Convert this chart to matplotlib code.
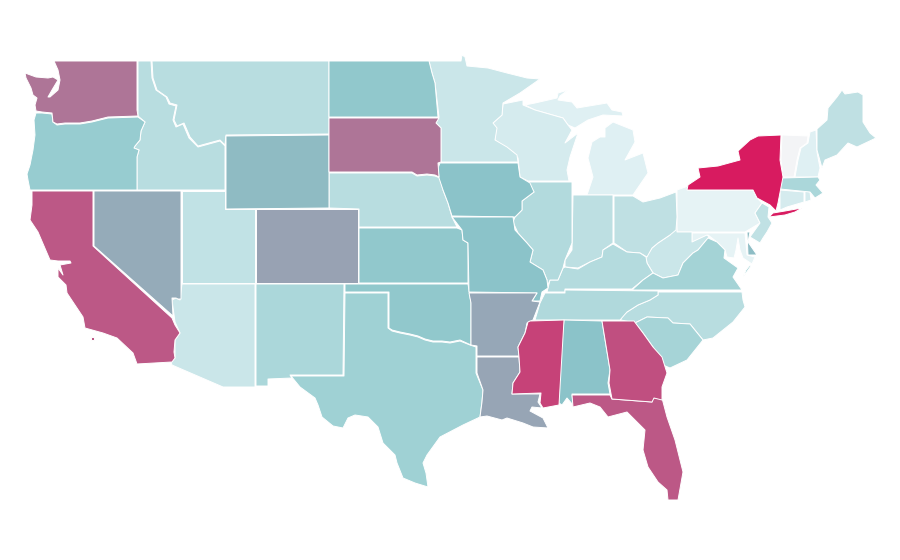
import matplotlib
matplotlib.use("Agg")
import matplotlib.pyplot as plt
from matplotlib.patches import Polygon
from matplotlib.colors import LinearSegmentedColormap

state_names = ["VT","PA","MD","NJ","MI","NH","WI","MN","AZ","WV","CT","RI","ME","OH","UT","IN","KY","IL",
               "MT","ID","NE","NC","TN","MA","NM","VA","SC","TX","OR","KS","OK","ND","IA","MO","AL","DE",
               "WY","NV","AR","LA","CO","WA","SD","CA","FL","GA","MS","NY"]
state_values = [0.0,0.06,0.06,0.245,0.10,0.10,0.15,0.20,0.20,0.20,0.15,0.15,0.25,0.25,0.24,0.26,0.30,0.31,
                0.28,0.28,0.28,0.28,0.32,0.34,0.34,0.375,0.37,0.40,0.44,0.47,0.47,0.47,0.50,0.50,0.50,0.52,
                0.53,0.58,0.59,0.60,0.61,0.80,0.80,0.89,0.89,0.91,0.93,1.0]

cmap = LinearSegmentedColormap.from_list("rate", [
    (0.0, "#f3f4f6"), (0.06, "#e6f3f5"), (0.10, "#dff0f3"), (0.20, "#cae6e9"),
    (0.28, "#b8dde0"), (0.40, "#9fd1d4"), (0.5, "#8bc4c9"), (0.6, "#97a5b5"),
    (0.8, "#ae7597"), (0.9, "#bd5584"), (1.0, "#d81b60")])

outlines = {
"WA": [[(54,61),(137,61),(137,110),(138,116),(108,117),(92,121),(80,123),(65,123),(57,124),(53,122),(52,113),(42,112),(36,111),(35,105),(37,98),(33,95),(31,88),(26,78),(25,73),(36,77),(48,78),(53,77),(58,80),(52,90),(48,97),(50,97),(58,90),(60,80),(58,70)]],
"OR": [[(36,113),(42,113),(52,114),(53,122),(57,125),(65,124),(80,124),(92,122),(108,118),(138,117),(145,122),(141,131),(140,140),(135,146),(134,148),(139,150),(137,157),(137,190),(30,190),(28,180),(27,174),(30,165),(33,150),(35,135),(34,120)]],
"CA": [[(32,191),(93,191),(93,246),(172,318),(175,325),(180,333),(175,340),(174,352),(175,358),(172,362),(137,364),(133,353),(117,338),(103,333),(85,328),(83,317),(67,293),(66,285),(58,277),(58,268),(63,275),(60,265),(71,263),(70,261),(58,261),(50,260),(38,232),(30,220),(32,205)],
       [(91,337),(94,337),(94,340),(91,340)]],
"NV": [[(94,191),(181,191),(181,299),(178,299),(176,298),(172,298),(173,316),(94,246)]],
"UT": [[(182,191),(225,191),(225,209),(255,209),(255,283),(182,283)]],
"AZ": [[(182,284),(255,284),(255,387),(223,387),(172,365),(171,362),(175,358),(175,340),(180,333),(175,322),(172,300),(176,298),(180,300)]],
"NM": [[(256,284),(344,284),(343,375),(290,375),(292,378),(268,379),(268,386),(256,386)]],
"TX": [[(345,293),(388,293),(388,328),(392,331),(400,333),(410,335),(418,337),(425,340),(433,342),(442,342),(450,343),(460,341),(470,345),(476,347),(476,373),(483,390),(482,402),(480,417),(463,425),(440,437),(427,455),(423,463),(426,473),(428,487),(415,483),(403,478),(397,463),(395,455),(383,443),(378,427),(368,417),(355,415),(348,418),(343,428),(333,426),(322,417),(318,405),(315,398),(300,387),(291,376),(344,376)]],
"OK": [[(345,284),(468,284),(471,303),(471,345),(460,340),(450,342),(442,341),(433,341),(425,339),(418,336),(410,334),(400,332),(392,330),(389,328),(389,292),(345,292)]],
"KS": [[(359,228),(457,228),(462,230),(463,240),(468,243),(468,283),(359,283)]],
"CO": [[(256,209),(358,209),(358,283),(256,283)]],
"WY": [[(226,136),(329,135),(329,208),(226,209)]],
"MT": [[(152,61),(329,61),(329,134),(226,135),(225,145),(220,140),(198,146),(190,137),(184,123),(177,126),(174,120),(177,105),(170,103),(167,97),(157,90),(153,78)]],
"ID": [[(138,61),(151,61),(152,78),(156,90),(166,97),(169,104),(176,106),(173,120),(176,127),(183,124),(189,138),(198,147),(220,141),(225,146),(225,190),(137,190),(137,157),(139,150),(134,148),(135,146),(140,140),(141,131),(145,122),(138,116)]],
"ND": [[(329,61),(429,61),(432,73),(435,83),(438,117),(329,117)]],
"SD": [[(329,118),(439,118),(436,123),(441,128),(441,162),(438,163),(439,177),(435,175),(427,174),(417,175),(412,172),(329,172)]],
"NE": [[(329,173),(412,173),(417,176),(427,175),(435,176),(440,178),(443,190),(448,203),(452,217),(457,227),(359,227),(359,209),(329,208)]],
"MN": [[(429,61),(461,61),(462,55),(465,57),(467,66),(488,68),(507,73),(527,78),(540,79),(520,93),(503,103),(502,115),(493,123),(497,128),(495,140),(507,147),(517,155),(518,162),(441,162),(441,128),(436,123),(439,117),(435,83),(432,73)]],
"IA": [[(440,163),(518,163),(520,177),(530,183),(534,192),(522,201),(522,210),(515,217),(452,216),(448,203),(443,190),(439,178),(438,168)]],
"WI": [[(503,104),(523,100),(523,105),(535,110),(563,118),(568,125),(572,130),(565,143),(578,133),(570,157),(567,170),(569,181),(528,181),(520,177),(518,158),(513,152),(495,140),(496,130),(493,123),(502,115)]],
"MI": [[(535,103),(557,98),(558,93),(568,90),(560,96),(558,100),(572,102),(577,108),(607,103),(612,110),(622,112),(623,116),(603,115),(588,120),(575,128),(568,125),(563,118),(535,110),(525,105)],
       [(613,122),(633,130),(635,142),(625,160),(643,153),(648,173),(635,192),(633,195),(587,195),(593,177),(588,158),(592,142),(600,137),(605,137),(605,128)]],
"IL": [[(528,182),(534,192),(522,201),(522,210),(515,217),(513,222),(518,233),(527,243),(533,250),(530,262),(543,270),(547,280),(547,287),(550,280),(558,280),(563,268),(565,260),(572,243),(572,182)]],
"IN": [[(573,195),(613,195),(613,243),(603,250),(602,257),(590,262),(578,268),(565,267),(565,260),(572,250)]],
"OH": [[(614,196),(633,196),(643,202),(660,198),(676,192),(677,217),(676,230),(670,235),(658,243),(652,248),(647,257),(640,253),(627,252),(617,245),(614,243)]],
"KY": [[(565,267),(578,269),(590,262),(602,257),(603,250),(613,244),(627,252),(640,253),(646,257),(647,263),(653,273),(643,280),(632,289),(565,289),(565,292),(547,292),(550,280),(558,280),(563,268)]],
"TN": [[(545,293),(565,293),(565,290),(658,291),(658,295),(650,300),(638,305),(627,312),(620,320),(535,320),(540,303)]],
"NC": [[(658,292),(742,292),(743,300),(745,307),(733,322),(713,338),(703,340),(690,324),(673,323),(668,318),(647,317),(635,323),(621,320),(621,317),(627,312),(638,305),(650,300),(658,295)]],
"VA": [[(632,290),(643,280),(653,273),(663,278),(678,275),(683,263),(693,253),(698,250),(708,238),(717,242),(725,250),(724,258),(738,268),(733,277),(742,290)],
       [(743,277),(746,270),(750,265),(751,266),(746,273)]],
"WV": [[(646,257),(652,248),(658,243),(670,235),(676,217),(677,232),(692,232),(692,242),(707,235),(709,237),(698,250),(693,253),(683,263),(678,275),(663,278),(653,273),(647,263)]],
"PA": [[(677,190),(688,186),(688,190),(753,190),(757,198),(762,203),(755,213),(760,223),(745,232),(677,232)]],
"NY": [[(687,190),(688,185),(700,177),(698,168),(718,166),(740,160),(738,151),(750,140),(758,136),(781,135),(780,160),(783,177),(778,203),(776,211),(770,205),(757,198),(753,190)],
       [(769,217),(773,213),(785,211),(802,208),(795,212),(785,215),(777,216)]],
"VT": [[(782,135),(808,136),(807,143),(800,148),(797,160),(794,177),(783,177),(781,160)]],
"NH": [[(810,132),(816,130),(817,152),(820,168),(818,177),(795,177),(798,160),(801,148),(808,143)]],
"ME": [[(817,129),(827,120),(828,108),(837,97),(842,90),(845,94),(858,92),(863,95),(863,122),(870,133),(876,138),(857,147),(848,143),(837,155),(825,160),(822,168),(817,150)]],
"MA": [[(782,178),(818,177),(820,180),(816,185),(823,193),(815,198),(810,192),(780,189)]],
"CT": [[(780,190),(804,192),(804,202),(787,207),(780,210)]],
"RI": [[(805,191),(810,192),(811,200),(805,202)]],
"NJ": [[(762,203),(769,207),(768,217),(772,223),(767,232),(763,238),(760,243),(750,237),(755,230),(760,223),(755,213)]],
"DE": [[(747,232),(750,232),(748,242),(757,255),(748,255)]],
"MD": [[(692,233),(745,233),(747,255),(755,257),(752,264),(743,258),(740,250),(738,238),(736,250),(734,258),(727,257),(725,250),(717,242),(708,235),(692,242)]],
"AR": [[(469,293),(537,293),(532,301),(540,302),(533,320),(527,323),(525,333),(518,347),(519,356),(477,356),(477,346),(471,345),(471,303)]],
"MO": [[(452,217),(513,217),(515,230),(527,243),(533,250),(530,262),(543,270),(547,280),(548,288),(542,292),(540,301),(532,301),(537,293),(469,292),(468,243),(463,240),(462,230)]],
"LA": [[(477,357),(519,357),(520,372),(513,383),(512,394),(540,394),(538,402),(542,408),(532,407),(530,411),(543,418),(548,428),(533,427),(523,423),(507,418),(502,420),(487,416),(480,417),(482,402),(483,390),(477,373)]],
"MS": [[(530,321),(564,320),(559,405),(543,408),(540,403),(541,393),(512,394),(513,383),(520,372),(519,357),(518,347),(525,333),(528,322)]],
"AL": [[(564,320),(602,321),(610,370),(608,383),(610,394),(572,394),(573,405),(567,398),(562,405),(559,403),(559,373)]],
"GA": [[(602,321),(634,321),(643,333),(653,347),(662,357),(667,373),(662,387),(662,400),(654,398),(652,402),(612,399),(609,383),(610,370)]],
"FL": [[(572,395),(610,395),(612,399),(652,402),(653,398),(662,398),(667,417),(675,440),(683,472),(678,500),(668,500),(667,490),(658,482),(648,467),(643,450),(645,430),(627,412),(608,417),(600,407),(590,403),(573,407)]],
"SC": [[(635,323),(647,317),(668,318),(673,323),(690,324),(703,340),(687,360),(670,368),(663,365),(653,347),(643,333)]],
}

fig = plt.figure(figsize=(9, 5.6), dpi=100, facecolor="white")
ax = fig.add_axes([0, 0, 1, 1])
ax.set_xlim(0, 900)
ax.set_ylim(560, 0)
ax.axis("off")

for name, value in zip(state_names, state_values):
    for ring in outlines[name]:
        ax.add_patch(Polygon(ring, closed=True, facecolor=cmap(value),
                             edgecolor="white", linewidth=0.7, joinstyle="round"))

fig.savefig("out.png", dpi=100, facecolor="white")
